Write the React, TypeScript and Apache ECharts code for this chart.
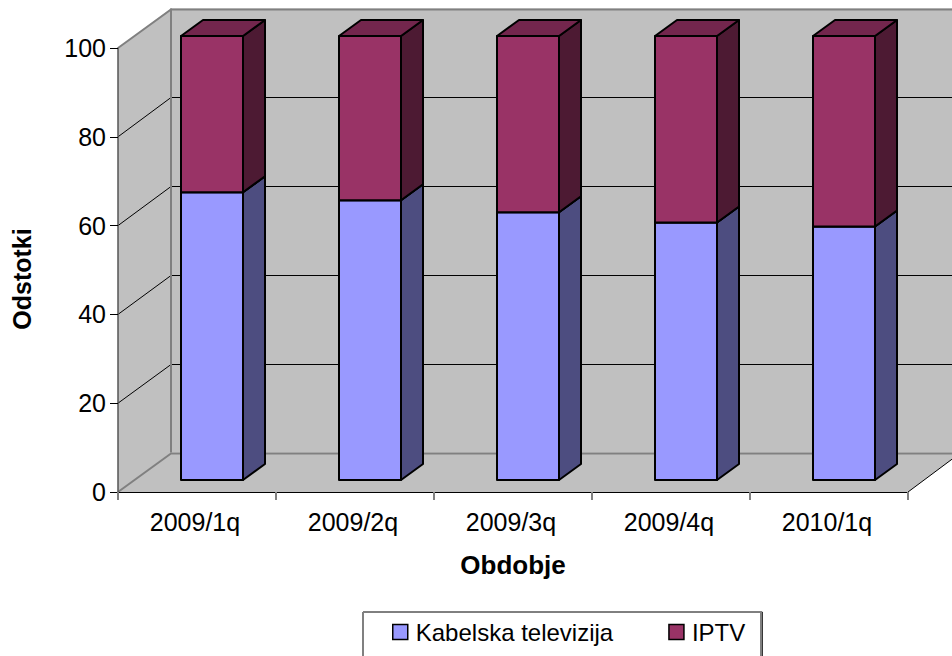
import React, { useEffect, useRef } from "react";
import * as echarts from "echarts";

const categories = ["2009/1q", "2009/2q", "2009/3q", "2009/4q", "2010/1q"];
const cableValues = [64.8, 63, 60.3, 58, 57.1];
const iptvValues = [35.2, 37, 39.7, 42, 42.9];
const yTicks = [0, 20, 40, 60, 80, 100];

const FONT = "Liberation Sans";
const WALL_DX = 53;
const WALL_DY = 39.5;
const BAR_OFF_DX = 15;
const BAR_OFF_DY = 12;
const BAR_DX = 22;
const BAR_DY = 16;
const BAR_W = 62;

const wallItem = (params: any, api: any) => {
  const band = api.size([1, 0])[0];
  const [xc0] = api.coord([0, 0]);
  const [xc4] = api.coord([categories.length - 1, 0]);
  const x0 = xc0 - band / 2;
  const x1 = xc4 + band / 2;
  const yb = api.coord([0, 0])[1];
  const yt = api.coord([0, 100])[1];
  const wall = { fill: "#C0C0C0", stroke: "none" };
  const grey = { stroke: "#808080", lineWidth: 2, fill: "none" };
  const children: any[] = [
    { type: "polygon", shape: { points: [[x0 + WALL_DX, yt - WALL_DY], [x1 + WALL_DX, yt - WALL_DY], [x1 + WALL_DX, yb - WALL_DY], [x0 + WALL_DX, yb - WALL_DY]] }, style: wall },
    { type: "polygon", shape: { points: [[x0, yt], [x0 + WALL_DX, yt - WALL_DY], [x0 + WALL_DX, yb - WALL_DY], [x0, yb]] }, style: wall },
    { type: "polygon", shape: { points: [[x0, yb], [x0 + WALL_DX, yb - WALL_DY], [x1 + WALL_DX, yb - WALL_DY], [x1, yb]] }, style: wall },
  ];
  yTicks.forEach((t) => {
    const y = api.coord([0, t])[1];
    const edge = t === 0 || t === 100;
    const by = Math.round(y - WALL_DY) + 0.5;
    children.push({
      type: "polyline",
      shape: { points: [[x0, y], [x0 + WALL_DX, by], [x1 + WALL_DX, by]] },
      style: edge ? grey : { stroke: "#000", lineWidth: 1, fill: "none" },
    });
  });
  children.push({ type: "line", shape: { x1: x0 + WALL_DX, y1: yt - WALL_DY, x2: x0 + WALL_DX, y2: yb - WALL_DY }, style: grey });
  children.push({ type: "line", shape: { x1: x1, y1: yb, x2: x1 + WALL_DX, y2: yb - WALL_DY }, style: { stroke: "#000", lineWidth: 1 } });
  return { type: "group", children };
};

const barItem = (front: string, side: string, top: string) => (params: any, api: any) => {
  const c = api.coord([api.value(0), api.value(1)]);
  const d = api.coord([api.value(0), api.value(2)]);
  const l = c[0] + BAR_OFF_DX - BAR_W / 2;
  const r = l + BAR_W;
  const yb = c[1] - BAR_OFF_DY;
  const yt = d[1] - BAR_OFF_DY;
  const edge = { stroke: "#000", lineWidth: 2, lineJoin: "round" };
  return {
    type: "group",
    children: [
      { type: "polygon", shape: { points: [[l, yb], [r, yb], [r, yt], [l, yt]] }, style: { fill: front, ...edge } },
      { type: "polygon", shape: { points: [[r, yb], [r + BAR_DX, yb - BAR_DY], [r + BAR_DX, yt - BAR_DY], [r, yt]] }, style: { fill: side, ...edge } },
      { type: "polygon", shape: { points: [[l, yt], [r, yt], [r + BAR_DX, yt - BAR_DY], [l + BAR_DX, yt - BAR_DY]] }, style: { fill: top, ...edge } },
    ],
  };
};

export default function App() {
  const ref = useRef<HTMLDivElement>(null);
  useEffect(() => {
    document.body.style.margin = "0";
    document.body.style.background = "#fff";
    const chart = echarts.init(ref.current!, null, { renderer: "svg" });
    chart.setOption({
      animation: false,
      backgroundColor: "#fff",
      grid: { left: 118, top: 48, width: 790, height: 444, outerBoundsMode: "none" },
      graphic: [
        { type: "line", z: 100, shape: { x1: 363, y1: 612, x2: 363, y2: 656 }, style: { stroke: "#808080", lineWidth: 2 } },
        { type: "line", z: 100, shape: { x1: 761, y1: 612, x2: 761, y2: 656 }, style: { stroke: "#808080", lineWidth: 2 } },
      ],
      legend: {
        left: 363,
        top: 612,
        data: ["Kabelska televizija", "IPTV"],
        icon: "rect",
        itemWidth: 15,
        itemHeight: 15,
        itemGap: 55,
        padding: [8, 17, 25, 29],
        borderColor: "#000",
        borderWidth: 1,
        textStyle: { fontFamily: FONT, fontSize: 24, color: "#000", padding: [0, 0, 0, 3] },
        itemStyle: { borderColor: "#000", borderWidth: 1.5 },
      },
      xAxis: {
        type: "category",
        data: categories,
        z: 5,
        name: "Obdobje",
        nameLocation: "middle",
        nameGap: 60,
        nameMoveOverlap: false,
        nameTextStyle: { fontFamily: FONT, fontSize: 26, fontWeight: "bold", color: "#000" },
        axisLine: { show: true, lineStyle: { color: "#000", width: 1 } },
        axisTick: { show: true, length: 8, lineStyle: { color: "#808080", width: 2 } },
        axisLabel: { fontFamily: FONT, fontSize: 25, color: "#000", margin: 17, padding: [0, 4, 0, 0] },
      },
      yAxis: {
        type: "value",
        min: 0,
        max: 100,
        interval: 20,
        z: 5,
        name: "Odstotki",
        nameLocation: "middle",
        nameGap: 84,
        nameRotate: 90,
        nameMoveOverlap: false,
        nameTextStyle: { fontFamily: FONT, fontSize: 25, fontWeight: "bold", color: "#000", padding: [0, 18, 0, 0] },
        axisLine: { show: true, lineStyle: { color: "#555", width: 1.5 } },
        axisTick: { show: true, length: 8, lineStyle: { color: "#000" } },
        splitLine: { show: false },
        axisLabel: { fontFamily: FONT, fontSize: 25, color: "#000", margin: 12 },
      },
      series: [
        { type: "custom", name: "walls", z: 1, data: [[0, 0]], renderItem: wallItem, silent: true },
        {
          type: "custom",
          name: "Kabelska televizija",
          z: 2,
          itemStyle: { color: "#9999FF" },
          encode: { x: 0, y: [1, 2] },
          data: cableValues.map((v, i) => [i, 0, v]),
          renderItem: barItem("#9999FF", "#4D4D80", "#7373BF"),
        },
        {
          type: "custom",
          name: "IPTV",
          z: 3,
          itemStyle: { color: "#993366" },
          encode: { x: 0, y: [1, 2] },
          data: iptvValues.map((v, i) => [i, cableValues[i], cableValues[i] + v]),
          renderItem: barItem("#993366", "#4D1A33", "#73264D"),
        },
      ],
    });
    return () => chart.dispose();
  }, []);
  return <div ref={ref} style={{ width: 952, height: 656 }} />;
}
